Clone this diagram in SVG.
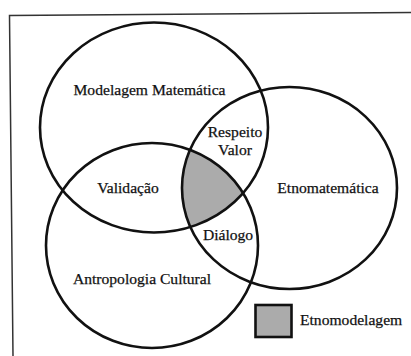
<svg xmlns="http://www.w3.org/2000/svg" width="411" height="356" viewBox="0 0 411 356">
<style>
.ring{fill:none;stroke:#111;stroke-width:2.6}
.lbl{font-size:15.6px;fill:#111;text-anchor:middle;stroke:#111;stroke-width:0.25}
.shade{fill:#ababab}
</style>
<defs>
<clipPath id="clipA"><ellipse cx="154" cy="127.5" rx="114" ry="105"/></clipPath>
<clipPath id="clipB"><ellipse cx="152" cy="245.5" rx="106" ry="102.5"/></clipPath>
</defs>
<rect width="411" height="356" fill="#ffffff"/>
<polyline points="13,356 9.5,15.5 411,12.5" fill="none" stroke="#333" stroke-width="1.5"/>
<g id="etnomodelagem-area">
<g clip-path="url(#clipA)"><g clip-path="url(#clipB)"><ellipse class="shade" cx="289.5" cy="188" rx="107.5" ry="101"/></g></g>
</g>
<g font-family="'Liberation Serif', 'DejaVu Serif', 'Times New Roman', serif">
<g id="modelagem">
<ellipse class="ring" cx="154" cy="127.5" rx="114" ry="105"/>
<text class="lbl" x="149.5" y="95">Modelagem Matemática</text>
</g>
<g id="antropologia">
<ellipse class="ring" cx="152" cy="245.5" rx="106" ry="102.5"/>
<text class="lbl" x="142" y="284">Antropologia Cultural</text>
</g>
<g id="etnomatematica">
<ellipse class="ring" cx="289.5" cy="188" rx="107.5" ry="101"/>
<text class="lbl" x="328" y="193">Etnomatemática</text>
</g>
<g id="intersections">
<text class="lbl" x="235" y="137">Respeito</text>
<text class="lbl" x="235" y="155">Valor</text>
<text class="lbl" x="128" y="193">Validação</text>
<text class="lbl" x="228" y="240">Diálogo</text>
</g>
<g id="legend">
<rect class="shade" x="255.5" y="305" width="36" height="32" stroke="#111" stroke-width="2.6"/>
<text class="lbl" x="300" y="325" style="text-anchor:start">Etnomodelagem</text>
</g>
</g>
<g id="connectors"></g>
</svg>
